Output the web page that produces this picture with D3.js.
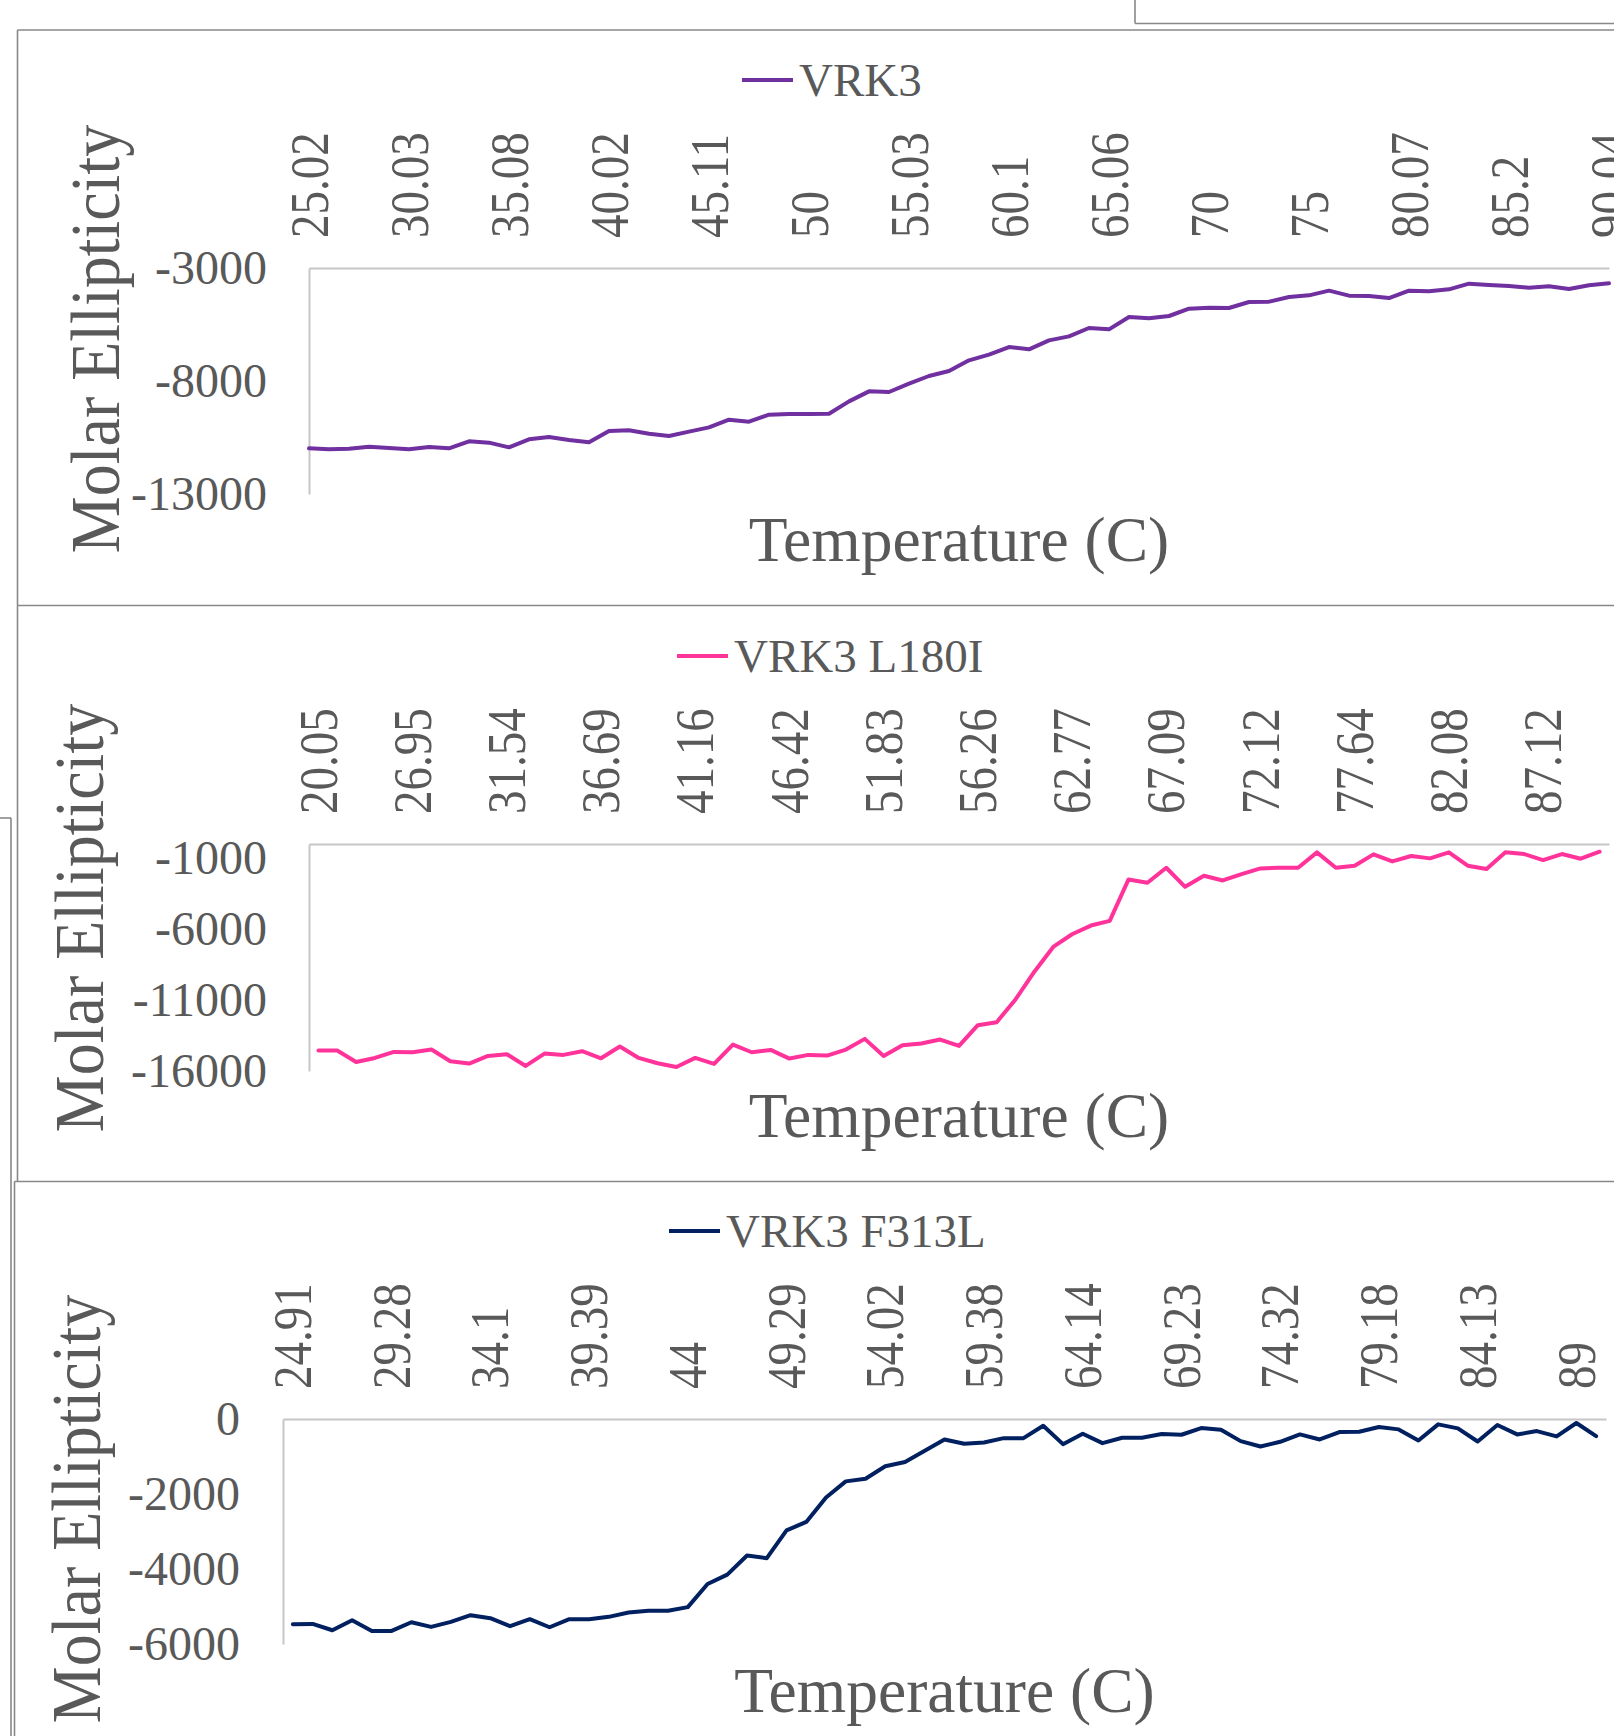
<!DOCTYPE html>
<html>
<head>
<meta charset="utf-8">
<script src="https://cdn.jsdelivr.net/npm/d3@7"></script>
<style>
  html, body { margin: 0; padding: 0; background: #ffffff; }
  svg { display: block; }
  text { font-family: "Liberation Serif", "Times New Roman", serif; fill: #595959; }
</style>
</head>
<body>
<svg id="chart" width="1614" height="1736"></svg>
<script>
// ---------------- DATA ----------------
const seriesNames = ["VRK3", "VRK3 L180I", "VRK3 F313L"];

const vrk3TickLabels = ["25.02","30.03","35.08","40.02","45.11","50","55.03","60.1","65.06","70","75","80.07","85.2","90.04"];
const vrk3Values = [
  -10980, -11024, -10995, -10906, -10965, -11024, -10921, -10980, -10670, -10729,
  -10936, -10582, -10478, -10611, -10714, -10213, -10183, -10331, -10434, -10242,
  -10051, -9711, -9800, -9490, -9461, -9461, -9446, -8900, -8458, -8487,
  -8118, -7779, -7558, -7086, -6835, -6496, -6599, -6201, -6024, -5655,
  -5714, -5168, -5227, -5124, -4800, -4755, -4770, -4505, -4490, -4283,
  -4210, -4003, -4224, -4239, -4328, -4003, -4033, -3944, -3693, -3752,
  -3797, -3870, -3811, -3929, -3767, -3679
];
const vrk3YTicks = [-13000, -8000, -3000];

const l180iTickLabels = ["20.05","26.95","31.54","36.69","41.16","46.42","51.83","56.26","62.77","67.09","72.12","77.64","82.08","87.12"];
const l180iValues = [
  -14560, -14560, -15361, -15078, -14654, -14678, -14489, -15314, -15479, -14937,
  -14819, -15644, -14772, -14866, -14607, -15102, -14277, -15078, -15455, -15715,
  -15078, -15502, -14136, -14678, -14513, -15125, -14866, -14913, -14489, -13735,
  -14937, -14183, -14065, -13782, -14230,
  -12770, -12557, -10955, -9000, -7256, -6361, -5749, -5419, -2497, -2733,
  -1673, -3016, -2238, -2568, -2120, -1720, -1673, -1673, -589, -1673,
  -1531, -730, -1225, -848, -1013, -589, -1531, -1767, -589, -707,
  -1131, -707, -1037, -542
];
const l180iYTicks = [-16000, -11000, -6000, -1000];

const f313lTickLabels = ["24.91","29.28","34.1","39.39","44","49.29","54.02","59.38","64.14","69.23","74.32","79.18","84.13","89"];
const f313lValues = [
  -5473, -5464, -5634, -5365, -5651, -5651, -5419, -5544, -5410, -5231,
  -5312, -5526, -5338, -5553, -5338, -5338, -5276, -5160, -5115, -5115,
  -5016, -4399, -4149, -3639, -3711, -2969, -2745, -2092, -1663, -1592,
  -1261, -1145, -849, -545,
  -662, -626, -510, -510, -179, -671, -393, -644, -501, -501,
  -402, -420, -241, -286, -590, -733, -608, -411, -545, -349,
  -340, -215, -277, -572, -143, -250, -599, -161, -411, -322,
  -465, -107, -456
];
const f313lYTicks = [-6000, -4000, -2000, 0];

const xTitle = "Temperature (C)";
const yTitle = "Molar Ellipticity";

// ---------------- LAYOUT ----------------
const panels = [
  { name: seriesNames[0], values: vrk3Values, tickLabels: vrk3TickLabels, yTicks: vrk3YTicks,
    yDomain: [-13000, -3000], color: "#7030a0", mode: "point",
    left: 309, right: 1609, top: 268, bottom: 494,
    legendX: 742, legendY: 80, yTitleX: 119, yTitleY: 339, yLabelPad: 42 },
  { name: seriesNames[1], values: l180iValues, tickLabels: l180iTickLabels, yTicks: l180iYTicks,
    yDomain: [-16000, 0], color: "#ff3399", mode: "band",
    left: 309, right: 1609, top: 844, bottom: 1071,
    legendX: 677, legendY: 656, yTitleX: 103, yTitleY: 918, yLabelPad: 42 },
  { name: seriesNames[2], values: f313lValues, tickLabels: f313lTickLabels, yTicks: f313lYTicks,
    yDomain: [-6000, 0], color: "#002060", mode: "band",
    left: 283, right: 1606, top: 1419, bottom: 1644,
    legendX: 669, legendY: 1231, yTitleX: 100, yTitleY: 1509, yLabelPad: 43 }
];

const svg = d3.select("#chart");
svg.append("rect").attr("width", 1614).attr("height", 1736).attr("fill", "#ffffff");

// chart-area borders (Excel chart frames)
const frame = svg.append("g").attr("stroke", "#888888").attr("stroke-width", 1.6).attr("fill", "none");
const seg = (x1, y1, x2, y2) => frame.append("line").attr("x1", x1).attr("y1", y1).attr("x2", x2).attr("y2", y2);
seg(1135, 0, 1135, 23.5); seg(1135, 23.5, 1614, 23.5);      // frame of chart above
seg(0, 818, 11, 818); seg(11, 818, 11, 1736);                // frame of chart behind
seg(17.5, 30, 1614, 30); seg(17.5, 30, 17.5, 605.5);         // panel 1
seg(17.5, 605.5, 1614, 605.5); seg(17.5, 605.5, 17.5, 1181.5); // panel 2
seg(14.5, 1181.5, 1614, 1181.5); seg(14.5, 1181.5, 14.5, 1736); // panel 3

panels.forEach(p => {
  const g = svg.append("g");
  const idx = d3.range(p.values.length);
  const x = p.mode === "point"
    ? d3.scalePoint().domain(idx).range([p.left, p.right]).padding(0)
    : d3.scaleBand().domain(idx).range([p.left, p.right]).padding(0);
  const xc = i => p.mode === "point" ? x(i) : x(i) + x.bandwidth() / 2;
  const y = d3.scaleLinear().domain(p.yDomain).range([p.bottom, p.top]);

  // x axis on top (labels every 5th category)
  const tickIdx = d3.range(0, p.values.length, 5).filter(i => i / 5 < p.tickLabels.length);
  const xAxis = d3.axisTop(x).tickValues(tickIdx).tickFormat(i => p.tickLabels[i / 5])
    .tickSize(0).tickSizeOuter(0);
  const xg = g.append("g").attr("transform", `translate(0,${p.top})`).call(xAxis);
  xg.select(".domain").attr("stroke", "#c6c6c6").attr("stroke-width", 2);
  xg.selectAll("text")
    .attr("x", 0).attr("y", 0).attr("dy", null)
    .attr("transform", "translate(0,-30) rotate(-90) scale(1,1.15)")
    .attr("text-anchor", "start")
    .attr("dominant-baseline", "central")
    .style("font-family", "'Liberation Serif', 'Times New Roman', serif")
    .style("font-size", "47px")
    .attr("fill", "#595959");

  // y axis (plain hyphen-minus, as in the reference)
  const yAxis = d3.axisLeft(y).tickValues(p.yTicks).tickFormat(d => String(d))
    .tickSize(0).tickSizeOuter(0).tickPadding(p.yLabelPad);
  const yg = g.append("g").attr("transform", `translate(${p.left},0)`).call(yAxis);
  yg.select(".domain").attr("stroke", "#c6c6c6").attr("stroke-width", 2);
  yg.selectAll("text")
    .style("font-family", "'Liberation Serif', 'Times New Roman', serif")
    .style("font-size", "48px")
    .attr("fill", "#595959");

  // series line
  const line = d3.line().x((d, i) => xc(i)).y(d => y(d));
  g.append("path").datum(p.values)
    .attr("d", line)
    .attr("fill", "none")
    .attr("stroke", p.color)
    .attr("stroke-width", 4)
    .attr("stroke-linejoin", "round")
    .attr("stroke-linecap", "round");

  // legend
  g.append("line")
    .attr("x1", p.legendX).attr("x2", p.legendX + 51)
    .attr("y1", p.legendY).attr("y2", p.legendY)
    .attr("stroke", p.color).attr("stroke-width", 4);
  g.append("text")
    .attr("x", p.legendX + 57).attr("y", p.legendY).attr("dy", "0.35em")
    .style("font-size", "47px")
    .text(p.name);

  // axis titles
  g.append("text")
    .attr("x", (p.left + p.right) / 2).attr("y", p.top + 293)
    .attr("text-anchor", "middle")
    .style("font-size", "63.5px")
    .text(xTitle);
  g.append("text")
    .attr("transform", `translate(${p.yTitleX},${p.yTitleY}) rotate(-90) scale(1,1.1)`)
    .attr("text-anchor", "middle")
    .style("font-size", "64px")
    .text(yTitle);
});
</script>
</body>
</html>
